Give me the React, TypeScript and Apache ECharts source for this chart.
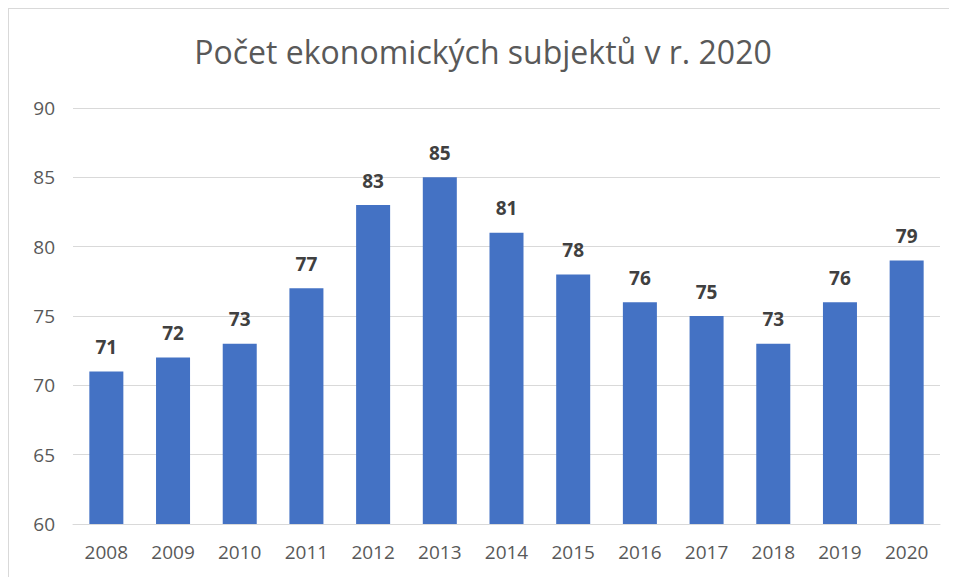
import React, { useEffect, useRef } from "react";
import * as echarts from "echarts";

const categories = ["2008", "2009", "2010", "2011", "2012", "2013", "2014", "2015", "2016", "2017", "2018", "2019", "2020"];
const values = [71, 72, 73, 77, 83, 85, 81, 78, 76, 75, 73, 76, 79];
const titleText = "Počet ekonomických subjektů v r. 2020";

export default function App() {
  const ref = useRef<HTMLDivElement>(null);
  useEffect(() => {
    if (!ref.current) return;
    const chart = echarts.init(ref.current, undefined, { renderer: "svg" });
    chart.setOption({
      animation: false,
      backgroundColor: "#ffffff",
      title: {
        text: titleText,
        left: "center",
        top: 21,
        textStyle: { fontFamily: "Open Sans", fontSize: 32, fontWeight: "normal", color: "#595959" },
      },
      grid: { left: 64, right: 17, top: 99, bottom: 53 },
      xAxis: {
        type: "category",
        data: categories,
        axisLine: { lineStyle: { color: "#d9d9d9", width: 1 } },
        axisTick: { show: false },
        axisLabel: { color: "#595959", fontSize: 19, fontFamily: "Open Sans", margin: 18 },
      },
      yAxis: {
        type: "value",
        min: 60,
        max: 90,
        interval: 5,
        axisLine: { show: false },
        axisTick: { show: false },
        splitLine: { lineStyle: { color: "#d9d9d9", width: 1 } },
        axisLabel: { color: "#595959", fontSize: 19, fontFamily: "Open Sans", margin: 18 },
      },
      series: [
        {
          type: "bar",
          data: values,
          barWidth: "51%",
          itemStyle: { color: "#4472C4" },
          label: {
            show: true,
            position: "top",
            distance: 15,
            color: "#404040",
            fontSize: 19,
            fontWeight: "bold",
            fontFamily: "Open Sans",
          },
        },
      ],
    });
    return () => chart.dispose();
  }, []);
  return (
    <div
      style={{
        borderLeft: "1px solid #d9d9d9",
        borderTop: "1px solid #d9d9d9",
        width: 948,
        height: 568,
      }}
    >
      <div ref={ref} style={{ width: 948, height: 568 }} />
    </div>
  );
}
